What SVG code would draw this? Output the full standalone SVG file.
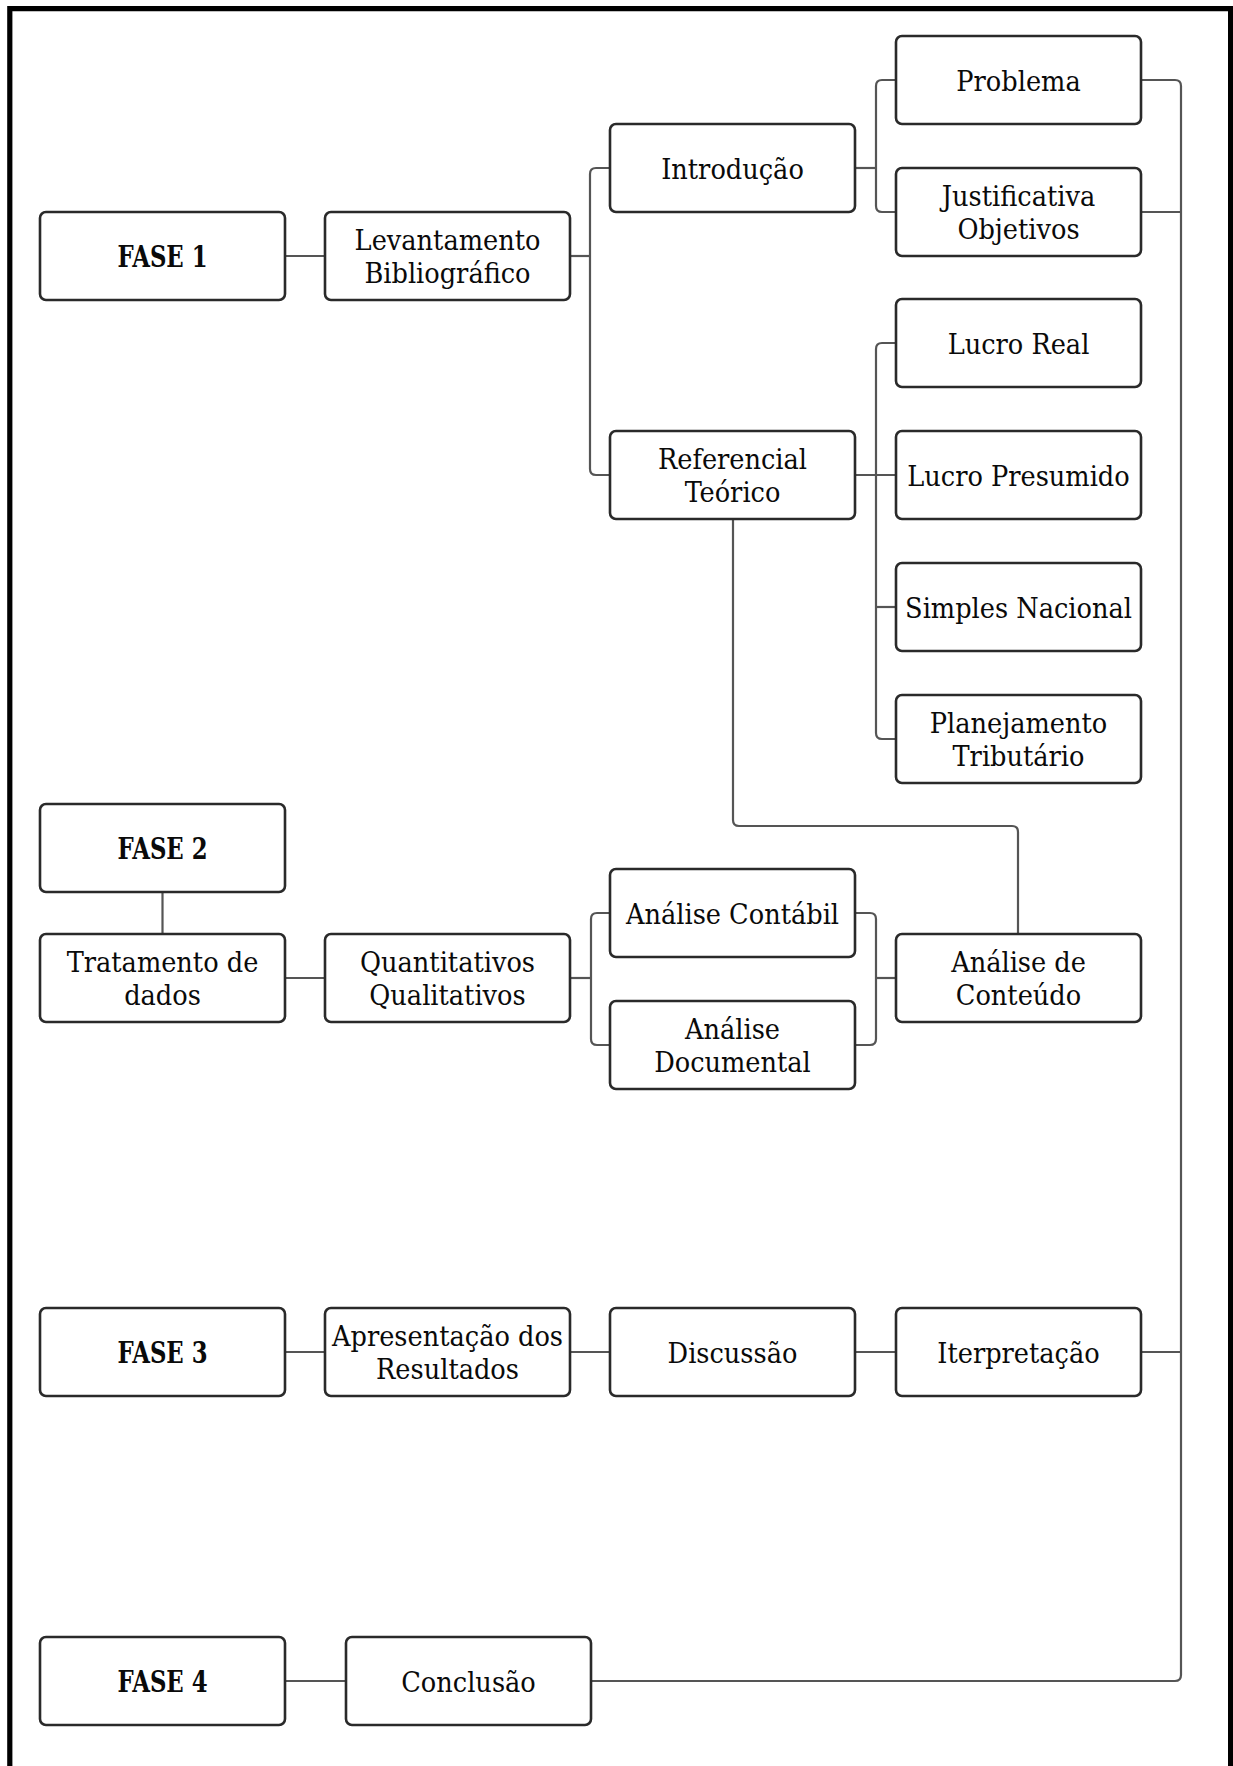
<svg xmlns="http://www.w3.org/2000/svg" width="1233" height="1766" viewBox="0 0 1233 1766">
<style>
.box{fill:#fff;stroke:#2a2a2a;stroke-width:2.6}
.t{font-family:"DejaVu Serif Condensed","DejaVu Serif","Liberation Serif",serif;font-stretch:condensed;font-size:28.5px;fill:#0a0a0a;text-anchor:middle}
.b{font-weight:bold;font-size:30px}
.c{fill:none;stroke:#555;stroke-width:2.2}
</style>
<rect width="1233" height="1766" fill="#fff"/>
<path d="M9.8 1766 V8.6 H1230.6 V1766" fill="none" stroke="#000" stroke-width="5.2"/>
<g id="connectors">
<path class="c" d="M285 256 H325"/>
<path class="c" d="M570 256 H590"/>
<path class="c" d="M610 168 H596 Q590 168 590 174 V469 Q590 475 596 475 H610"/>
<path class="c" d="M855 168 H876"/>
<path class="c" d="M896 80 H882 Q876 80 876 86 V206 Q876 212 882 212 H896"/>
<path class="c" d="M855 475 H896"/>
<path class="c" d="M896 343 H882 Q876 343 876 349 V733 Q876 739 882 739 H896"/>
<path class="c" d="M876 607 H896"/>
<path class="c" d="M733 519 V820 Q733 826 739 826 H1012 Q1018 826 1018 832 V934"/>
<path class="c" d="M162.5 892 V934"/>
<path class="c" d="M285 978 H325"/>
<path class="c" d="M570 978 H591"/>
<path class="c" d="M610 913 H597 Q591 913 591 919 V1039 Q591 1045 597 1045 H610"/>
<path class="c" d="M855 913 H870 Q876 913 876 919 V1039 Q876 1045 870 1045 H855"/>
<path class="c" d="M876 978 H896"/>
<path class="c" d="M285 1352 H325"/>
<path class="c" d="M570 1352 H610"/>
<path class="c" d="M855 1352 H896"/>
<path class="c" d="M1141 1352 H1181"/>
<path class="c" d="M1141 212 H1181"/>
<path class="c" d="M1141 80 H1175 Q1181 80 1181 86 V1675 Q1181 1681 1175 1681 H590"/>
<path class="c" d="M285 1681 H346"/>
</g>
<g id="fase1"><rect class="box" x="40" y="212" width="245" height="88" rx="6"/><text class="t b" x="162.5" y="267" textLength="90" lengthAdjust="spacingAndGlyphs">FASE 1</text></g>
<g id="levantamento"><rect class="box" x="325" y="212" width="245" height="88" rx="6"/><text class="t" x="447.5" y="249.5">Levantamento</text><text class="t" x="447.5" y="283">Bibliográfico</text></g>
<g id="introducao"><rect class="box" x="610" y="124" width="245" height="88" rx="6"/><text class="t" x="732.5" y="179">Introdução</text></g>
<g id="problema"><rect class="box" x="896" y="36" width="245" height="88" rx="6"/><text class="t" x="1018.5" y="91">Problema</text></g>
<g id="justificativa"><rect class="box" x="896" y="168" width="245" height="88" rx="6"/><text class="t" x="1018.5" y="205.5">Justificativa</text><text class="t" x="1018.5" y="239">Objetivos</text></g>
<g id="lucro-real"><rect class="box" x="896" y="299" width="245" height="88" rx="6"/><text class="t" x="1018.5" y="354">Lucro Real</text></g>
<g id="referencial"><rect class="box" x="610" y="431" width="245" height="88" rx="6"/><text class="t" x="732.5" y="468.5">Referencial</text><text class="t" x="732.5" y="502">Teórico</text></g>
<g id="lucro-presumido"><rect class="box" x="896" y="431" width="245" height="88" rx="6"/><text class="t" x="1018.5" y="486">Lucro Presumido</text></g>
<g id="simples"><rect class="box" x="896" y="563" width="245" height="88" rx="6"/><text class="t" x="1018.5" y="618">Simples Nacional</text></g>
<g id="planejamento"><rect class="box" x="896" y="695" width="245" height="88" rx="6"/><text class="t" x="1018.5" y="732.5">Planejamento</text><text class="t" x="1018.5" y="766">Tributário</text></g>
<g id="fase2"><rect class="box" x="40" y="804" width="245" height="88" rx="6"/><text class="t b" x="162.5" y="859" textLength="90" lengthAdjust="spacingAndGlyphs">FASE 2</text></g>
<g id="tratamento"><rect class="box" x="40" y="934" width="245" height="88" rx="6"/><text class="t" x="162.5" y="971.5">Tratamento de</text><text class="t" x="162.5" y="1005">dados</text></g>
<g id="quantitativos"><rect class="box" x="325" y="934" width="245" height="88" rx="6"/><text class="t" x="447.5" y="971.5">Quantitativos</text><text class="t" x="447.5" y="1005">Qualitativos</text></g>
<g id="analise-contabil"><rect class="box" x="610" y="869" width="245" height="88" rx="6"/><text class="t" x="732.5" y="924">Análise Contábil</text></g>
<g id="analise-documental"><rect class="box" x="610" y="1001" width="245" height="88" rx="6"/><text class="t" x="732.5" y="1038.5">Análise</text><text class="t" x="732.5" y="1072">Documental</text></g>
<g id="analise-conteudo"><rect class="box" x="896" y="934" width="245" height="88" rx="6"/><text class="t" x="1018.5" y="971.5">Análise de</text><text class="t" x="1018.5" y="1005">Conteúdo</text></g>
<g id="fase3"><rect class="box" x="40" y="1308" width="245" height="88" rx="6"/><text class="t b" x="162.5" y="1363" textLength="90" lengthAdjust="spacingAndGlyphs">FASE 3</text></g>
<g id="apresentacao"><rect class="box" x="325" y="1308" width="245" height="88" rx="6"/><text class="t" x="447.5" y="1345.5">Apresentação dos</text><text class="t" x="447.5" y="1379">Resultados</text></g>
<g id="discussao"><rect class="box" x="610" y="1308" width="245" height="88" rx="6"/><text class="t" x="732.5" y="1363">Discussão</text></g>
<g id="interpretacao"><rect class="box" x="896" y="1308" width="245" height="88" rx="6"/><text class="t" x="1018.5" y="1363">Iterpretação</text></g>
<g id="fase4"><rect class="box" x="40" y="1637" width="245" height="88" rx="6"/><text class="t b" x="162.5" y="1692" textLength="90" lengthAdjust="spacingAndGlyphs">FASE 4</text></g>
<g id="conclusao"><rect class="box" x="346" y="1637" width="245" height="88" rx="6"/><text class="t" x="468.5" y="1692">Conclusão</text></g>
</svg>
